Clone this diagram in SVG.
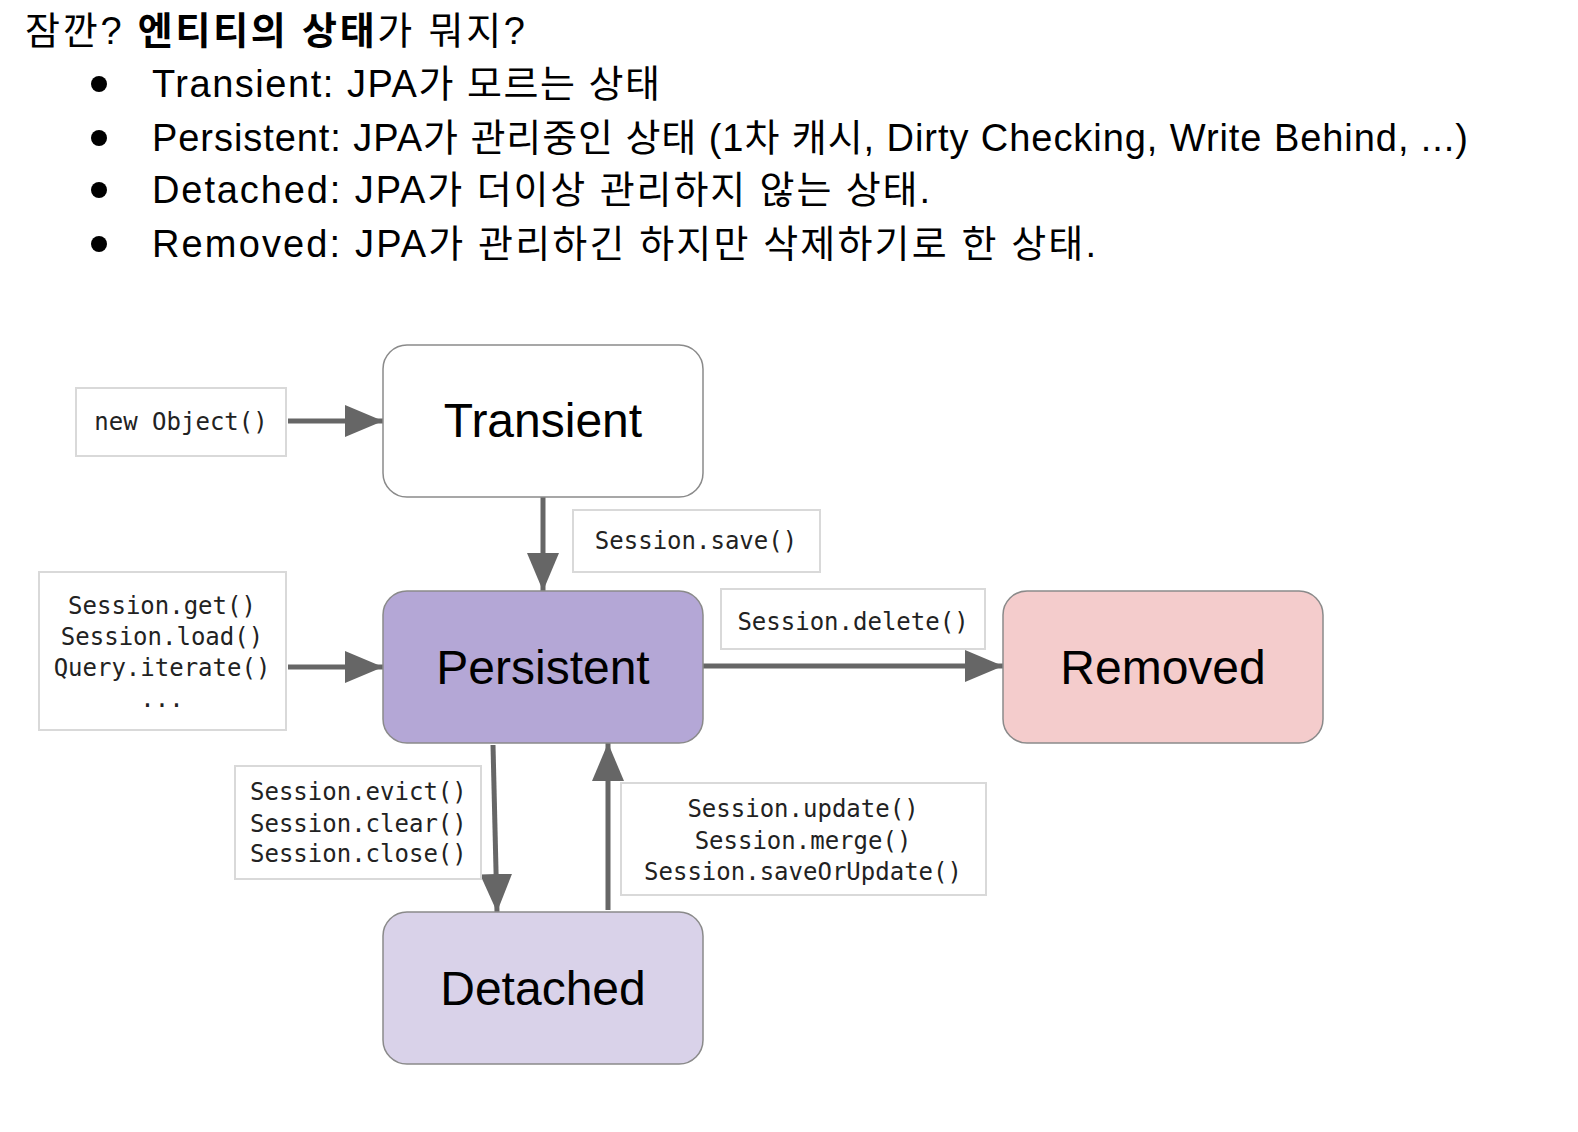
<svg xmlns="http://www.w3.org/2000/svg" width="1578" height="1132" viewBox="0 0 1578 1132">
<style>
.h{font-family:"Liberation Sans","Noto Sans CJK KR",sans-serif;font-size:38px;fill:#000}
.b{font-weight:bold}
.node{stroke:#8a8a8a;stroke-width:1.5}
.nt{font-family:"Liberation Sans",Arial,sans-serif;font-size:48px;fill:#000;text-anchor:middle}
.lb{fill:#fff;stroke:#d9d9d9;stroke-width:2}
.mono{font-family:"DejaVu Sans Mono","Liberation Mono",monospace;font-size:24px;fill:#222}
.c{text-anchor:middle}
.edge{stroke:#666;stroke-width:5;fill:none}
</style>
<defs>
<marker id="ah" markerUnits="userSpaceOnUse" markerWidth="40" markerHeight="32" refX="38" refY="16" orient="auto">
<path d="M0,0 L38,16 L0,32 Z" fill="#666"/>
</marker>
</defs>
<rect width="1578" height="1132" fill="#fff"/>
<g id="header">
<text class="h" x="25" y="44" textLength="500" lengthAdjust="spacing">잠깐? <tspan class="b">엔티티의 상태</tspan>가 뭐지?</text>
<circle cx="99" cy="84" r="8" fill="#000"/>
<text class="h" x="152" y="97" textLength="508" lengthAdjust="spacing">Transient: JPA가 모르는 상태</text>
<circle cx="99" cy="138" r="8" fill="#000"/>
<text class="h" x="152" y="151" textLength="1316" lengthAdjust="spacing">Persistent: JPA가 관리중인 상태 (1차 캐시, Dirty Checking, Write Behind, ...)</text>
<circle cx="99" cy="190" r="8" fill="#000"/>
<text class="h" x="152" y="203" textLength="778" lengthAdjust="spacing">Detached: JPA가 더이상 관리하지 않는 상태.</text>
<circle cx="99" cy="244" r="8" fill="#000"/>
<text class="h" x="152" y="257" textLength="944" lengthAdjust="spacing">Removed: JPA가 관리하긴 하지만 삭제하기로 한 상태.</text>
</g>
<g id="connectors">
<line class="edge" x1="288" y1="421" x2="383" y2="421" marker-end="url(#ah)"/>
<line class="edge" x1="543" y1="497" x2="543" y2="591" marker-end="url(#ah)"/>
<line class="edge" x1="288" y1="667" x2="383" y2="667" marker-end="url(#ah)"/>
<line class="edge" x1="703" y1="666" x2="1003" y2="666" marker-end="url(#ah)"/>
<line class="edge" x1="493" y1="745" x2="497" y2="912" marker-end="url(#ah)"/>
<line class="edge" x1="608" y1="910" x2="608" y2="743" marker-end="url(#ah)"/>
</g>
<g id="transient">
<rect class="node" x="383" y="345" width="320" height="152" rx="24" fill="#fff"/>
<text class="nt" x="543" y="437">Transient</text>
</g>
<g id="persistent">
<rect class="node" x="383" y="591" width="320" height="152" rx="24" fill="#b4a7d6"/>
<text class="nt" x="543" y="684">Persistent</text>
</g>
<g id="removed">
<rect class="node" x="1003" y="591" width="320" height="152" rx="24" fill="#f4cccc"/>
<text class="nt" x="1163" y="684">Removed</text>
</g>
<g id="detached">
<rect class="node" x="383" y="912" width="320" height="152" rx="24" fill="#d9d2e9"/>
<text class="nt" x="543" y="1005">Detached</text>
</g>
<g id="label-new">
<rect class="lb" x="76" y="388" width="210" height="68"/>
<text class="mono c" x="181" y="430">new Object()</text>
</g>
<g id="label-save">
<rect class="lb" x="573" y="510" width="247" height="62"/>
<text class="mono c" x="696" y="549">Session.save()</text>
</g>
<g id="label-get">
<rect class="lb" x="39" y="572" width="247" height="158"/>
<text class="mono c" x="162" y="614">Session.get()</text>
<text class="mono c" x="162" y="645">Session.load()</text>
<text class="mono c" x="162" y="676">Query.iterate()</text>
<text class="mono c" x="162" y="707">...</text>
</g>
<g id="label-delete">
<rect class="lb" x="721" y="589" width="264" height="60"/>
<text class="mono c" x="853" y="630">Session.delete()</text>
</g>
<g id="label-evict">
<rect class="lb" x="235" y="766" width="246" height="113"/>
<text class="mono" x="250" y="800">Session.evict()</text>
<text class="mono" x="250" y="832">Session.clear()</text>
<text class="mono" x="250" y="862">Session.close()</text>
</g>
<g id="label-update">
<rect class="lb" x="621" y="783" width="365" height="112"/>
<text class="mono c" x="803" y="817">Session.update()</text>
<text class="mono c" x="803" y="849">Session.merge()</text>
<text class="mono c" x="803" y="880">Session.saveOrUpdate()</text>
</g>
</svg>
